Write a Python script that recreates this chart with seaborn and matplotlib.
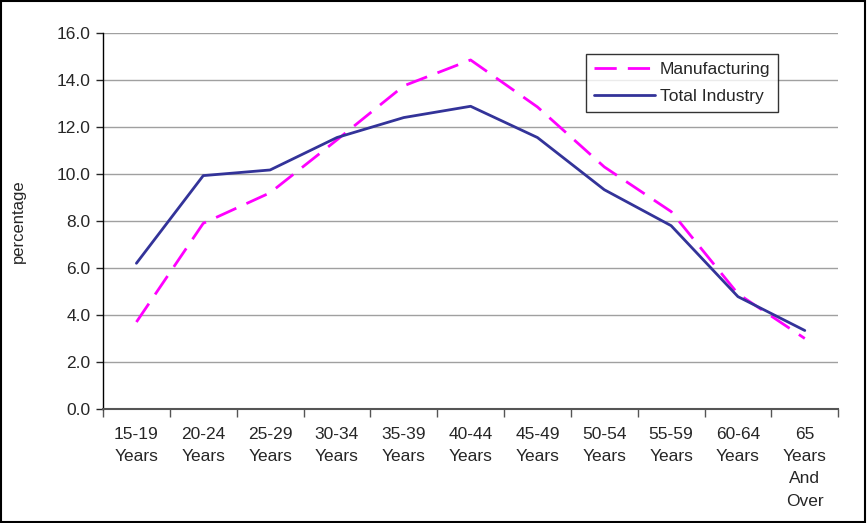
import numpy as np
import pandas as pd
import matplotlib
matplotlib.use("Agg")
import matplotlib.pyplot as plt
import seaborn as sns

# age groups (x axis)
age_groups = ["15-19\nYears", "20-24\nYears", "25-29\nYears", "30-34\nYears",
              "35-39\nYears", "40-44\nYears", "45-49\nYears", "50-54\nYears",
              "55-59\nYears", "60-64\nYears", "65\nYears\nAnd\nOver"]

# percentage of workers per age group
manufacturing = [3.7, 7.9, 9.2, 11.45, 13.75, 14.85, 12.85, 10.3, 8.4, 4.9, 3.0]
total_industry = [6.2, 9.93, 10.17, 11.55, 12.4, 12.88, 11.55, 9.33, 7.8, 4.78, 3.34]

y_ticks = np.arange(0, 16.1, 2)


def main():
    sns.set_style("white")
    plt.rcParams['font.family'] = ['Liberation Sans', 'DejaVu Sans']

    df = pd.DataFrame({
        'pos': np.arange(len(age_groups)),
        'Manufacturing': manufacturing,
        'Total Industry': total_industry,
    })

    fig = plt.figure(figsize=(8.67, 5.23), dpi=100)
    ax = fig.add_axes([0.1188, 0.218, 0.848, 0.719])

    sns.lineplot(x='pos', y='Manufacturing', data=df, ax=ax, color='#FF00FF',
                 linewidth=2.0, label='Manufacturing')
    sns.lineplot(x='pos', y='Total Industry', data=df, ax=ax, color='#333399',
                 linewidth=2.0, label='Total Industry')
    ax.lines[0].set_dashes([8, 4])

    ax.set_xlim(-0.5, len(age_groups) - 0.5)
    ax.set_ylim(0, 16)
    ax.set_yticks(y_ticks)
    ax.set_yticklabels([f"{v:.1f}" for v in y_ticks], fontsize=12.5)
    ax.yaxis.grid(True, color='#A0A0A0', linewidth=1.0)
    ax.set_axisbelow(True)

    # category labels in the middle, tick marks on the boundaries
    ax.set_xticks(np.arange(len(age_groups)))
    ax.set_xticklabels(age_groups, fontsize=12.5, linespacing=1.6)
    ax.tick_params(axis='x', length=0, pad=13)
    ax.set_xticks(np.arange(-0.5, len(age_groups)), minor=True)
    ax.tick_params(axis='x', which='minor', length=6, width=1, color='#555555',
                   direction='out', bottom=True)
    ax.tick_params(axis='y', length=5, width=1, direction='out', left=True, pad=4)

    ax.set_xlabel('')
    ax.set_ylabel('percentage', fontsize=12, labelpad=22)

    for side in ['top', 'right']:
        ax.spines[side].set_visible(False)
    ax.spines['left'].set_color('black')
    ax.spines['bottom'].set_color('#555555')
    ax.spines['left'].set_linewidth(1.0)
    ax.spines['bottom'].set_linewidth(1.5)

    leg = ax.legend(loc='upper left', bbox_to_anchor=(0.657, 0.944), fontsize=12.5,
                    frameon=True, fancybox=False, edgecolor='black',
                    handlelength=3.5, borderpad=0.45, labelspacing=0.7,
                    handletextpad=0.3, borderaxespad=0)
    leg.get_frame().set_linewidth(1.0)

    # border round the whole picture
    fig.patches.append(plt.Rectangle((0.001, 0.002), 0.997, 0.996, transform=fig.transFigure,
                                     fill=False, edgecolor='black', linewidth=1.5))

    fig.savefig('out.png', dpi=100)


if __name__ == "__main__":
    main()
